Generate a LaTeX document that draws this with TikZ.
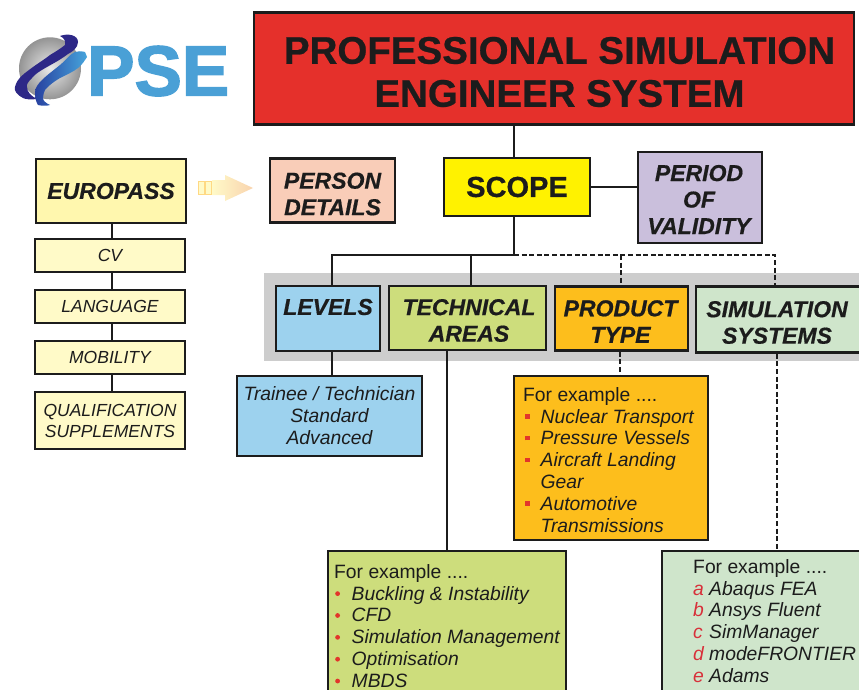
\documentclass[tikz,border=0pt]{standalone}
\usepackage{fontspec}
\setmainfont[BoldFeatures={FakeBold=0.6},BoldItalicFeatures={FakeBold=0.6}]{Liberation Sans}
\newfontfamily\psefont[UprightFont=* Bold,UprightFeatures={FakeBold=2}]{Liberation Sans}
\newcommand{\fs}[2]{\fontsize{#1}{#2}\selectfont}
\newcommand{\rb}{\makebox[17.5pt][l]{\hspace*{2pt}\textcolor{bulred}{\raisebox{4.5pt}{\rule{4.5pt}{4.5pt}}}}}
\newcommand{\cb}{\makebox[17.5pt][l]{\hspace*{1pt}\textcolor{bulred}{\raisebox{4pt}{\tikz\fill (0,0) circle (2.4pt);}}}}
\newcommand{\lt}[1]{\makebox[16pt][l]{\textcolor{letred}{#1}}}
\definecolor{bulred}{HTML}{E2352B}
\definecolor{letred}{HTML}{D8303A}
\definecolor{ink}{HTML}{1C1C1C}
\definecolor{cred}{HTML}{E5302B}
\definecolor{cyel}{HTML}{FFF200}
\definecolor{clil}{HTML}{CABFDC}
\definecolor{cpink}{HTML}{F9CDB8}
\definecolor{cpale}{HTML}{FFF7AE}
\definecolor{cpaler}{HTML}{FFFAC8}
\definecolor{cblue}{HTML}{9DD2EE}
\definecolor{cgreen}{HTML}{CDDD7C}
\definecolor{corange}{HTML}{FDBE1C}
\definecolor{cmint}{HTML}{CFE5CB}
\definecolor{cband}{HTML}{CDCDCD}
\definecolor{cpse}{HTML}{4AA0D6}
\definecolor{cpeach}{HTML}{F9D3AE}
\tikzset{
  boxn/.style={draw=ink,line width=2.6pt,inner sep=0pt,align=center,text=ink},
  head/.style={boxn,font=\bfseries\itshape\fs{23}{26.5}},
  lab/.style={inner sep=0pt,align=center,text=ink,font=\bfseries\itshape\fs{23}{26.5}},
  small/.style={boxn,fill=cpaler,font=\itshape\fs{17.5}{21}},
  conn/.style={draw=ink,line width=2.4pt},
  dconn/.style={draw=ink,line width=2.5pt,dash pattern=on 5pt off 2.6pt},
  list/.style={inner sep=0pt,anchor=north west,align=left,text=ink,font=\fs{19.3}{21.85}},
}
\begin{document}
\begin{tikzpicture}[x=1pt,y=-1pt]
\useasboundingbox (0,0) rectangle (859,690);
\clip (0,0) rectangle (859,690);
% logo
\shade[inner color=black!8,outer color=black!42] (50,68.3) circle (31);
\path[fill={rgb,255:red,45;green,40;blue,135}] (60,36) .. controls (68,33) and (78,35) .. (78,42)
  .. controls (78,48) and (72,52) .. (68,54) .. controls (60,60) and (54,63) .. (47,67)
  .. controls (40,71) and (35,74) .. (32,78) .. controls (28,82) and (26,85) .. (27,87)
  .. controls (27,92) and (31,96) .. (37,99) .. controls (30,100) and (25,99) .. (23,98)
  .. controls (17,95) and (14,91) .. (15,87) .. controls (17,78) and (25,73) .. (33,67)
  .. controls (40,62) and (45,59) .. (50,55) .. controls (55,52) and (60,49) .. (65,45)
  .. controls (66,41) and (64,38) .. (60,36) -- cycle;
\shade[left color={rgb,255:red,40;green,65;blue,160},right color={rgb,255:red,70;green,165;blue,220}]
  (85,52) .. controls (81,51) and (78,51) .. (75,52) .. controls (70,54) and (66,60) .. (60,65)
  .. controls (54,70) and (47,75) .. (42,80) .. controls (38,84) and (35,88) .. (35,92)
  .. controls (35,98) and (36,102) .. (38,105) .. controls (42,106) and (47,106) .. (50,105)
  .. controls (46,103) and (43,101) .. (43,98) .. controls (43,95) and (44,92) .. (45,90)
  .. controls (49,85) and (55,81) .. (60,78) .. controls (66,75) and (73,72) .. (78,68)
  .. controls (82,65) and (85,60) .. (87,57) -- cycle;
\node[inner sep=0pt,anchor=base west,text=cpse,font=\psefont\fs{71}{71}] (pse) at (87,95.5) {PSE};
% grey band
\node[fill=cband,inner sep=0pt,minimum width=595pt,minimum height=88pt] (band) at (561.5,317) {};
% arrow
\shade[left color=cpaler,right color=cpeach] (212,180) -- (225,180) -- (225,175) -- (253,188) -- (225,201) -- (225,195) -- (212,195) -- cycle;
\draw[cpale!75!orange,line width=.5pt,fill=cpaler] (198,181) rectangle (204,194) (205,181) rectangle (211,194);
% boxes
\node[boxn,fill=cred,minimum width=600pt,minimum height=112pt,
  label={[lab,font=\bfseries\fs{38.5}{43},xshift=5.5pt,yshift=-3.5pt]center:{PROFESSIONAL SIMULATION\\ENGINEER SYSTEM}}] (title) at (554,68.5) {};
\node[boxn,fill=cyel,font=\bfseries\fs{29}{32},minimum width=146pt,minimum height=58pt] (scope) at (517,187) {SCOPE};
\node[boxn,fill=clil,minimum width=124pt,minimum height=91pt,
  label={[lab,yshift=-2pt,xshift=-1pt]center:{PERIOD\\OF\\VALIDITY}}] (period) at (700,197.5) {};
\node[boxn,fill=cpink,minimum width=125pt,minimum height=64pt,
  label={[lab,yshift=-3.5pt]center:{PERSON\\DETAILS}}] (person) at (332.5,190.5) {};
\node[head,fill=cpale,minimum width=150pt,minimum height=64pt] (europass) at (111,191) {EUROPASS};
\node[small,minimum width=150pt,minimum height=33pt] (cv) at (110,255.5) {CV};
\node[small,minimum width=150pt,minimum height=33pt] (language) at (110,306.5) {LANGUAGE};
\node[small,minimum width=150pt,minimum height=33pt] (mobility) at (110,357.5) {MOBILITY};
\node[small,minimum width=150pt,minimum height=57pt] (qual) at (110,420.5) {QUALIFICATION\\SUPPLEMENTS};
\node[boxn,fill=cblue,minimum width=104pt,minimum height=65pt,
  label={[lab,yshift=11.5pt]center:{LEVELS}}] (levels) at (328,318.5) {};
\node[boxn,fill=cgreen,minimum width=157pt,minimum height=64pt,
  label={[lab,yshift=-2.5pt,xshift=1.5pt]center:{TECHNICAL\\AREAS}}] (tech) at (467.5,318) {};
\node[boxn,fill=corange,minimum width=133pt,minimum height=64pt,
  label={[lab,yshift=-3pt,xshift=-1pt]center:{PRODUCT\\TYPE}}] (prod) at (621.5,318.5) {};
\node[boxn,fill=cmint,minimum width=170pt,minimum height=66pt,
  label={[lab,yshift=-3pt,xshift=-4pt]center:{SIMULATION\\SYSTEMS}}] (sim) at (781,319.5) {};
\node[boxn,fill=cblue,font=\itshape\fs{19.3}{22},minimum width=185pt,minimum height=80pt] (lev) at (329.5,416) {Trainee / Technician\\Standard\\Advanced};
\node[boxn,fill=corange,minimum width=194pt,minimum height=164pt] (prodb) at (611,458) {};
\node[boxn,fill=cgreen,minimum width=238pt,minimum height=170pt] (techb) at (447,636) {};
\node[boxn,fill=cmint,minimum width=220pt,minimum height=170pt] (simb) at (772,636) {};
\node[list] (prodt) at (523,387) {For example ....\\
\rb\textit{Nuclear Transport}\\
\rb\textit{Pressure Vessels}\\
\rb\textit{Aircraft Landing}\\
\hspace*{17.5pt}\textit{Gear}\\
\rb\textit{Automotive}\\
\hspace*{17.5pt}\textit{Transmissions}};
\node[list] (techt) at (334,564) {For example ....\\
\cb\textit{Buckling \& Instability}\\
\cb\textit{CFD}\\
\cb\textit{Simulation Management}\\
\cb\textit{Optimisation}\\
\cb\textit{MBDS}};
\node[list] (simt) at (693,559) {For example ....\\
\lt{\textit{a}}\textit{Abaqus FEA}\\
\lt{\textit{b}}\textit{Ansys Fluent}\\
\lt{\textit{c}}\textit{SimManager}\\
\lt{\textit{d}}\textit{modeFRONTIER}\\
\lt{\textit{e}}\textit{Adams}};
% connector junctions
\coordinate (trunk) at (514,255);
\coordinate (busl) at (332,255);
\coordinate (bust) at (471,255);
\coordinate (busp) at (621,255);
\coordinate (buss) at (775,255);
\coordinate (euro) at (112,0);
\coordinate (tdrop) at (447,0);
\coordinate (pdrop) at (620,0);
\coordinate (sdrop) at (777,0);
% connectors
\draw[conn] (title.south -| trunk) -- (scope.north -| trunk);
\draw[conn] (scope.south -| trunk) -- (trunk);
\draw[conn] (scope.east |- period.west) ++(0,-10.5) coordinate (pv) -- (period.west |- pv);
\draw[conn] (bust) -- (tech.north -| bust);
\draw[conn,line join=miter] (trunk) -- (busl) -- (levels.north -| busl);
\draw[dconn] (trunk) -- (buss) -- (sim.north -| buss);
\draw[dconn] (busp) -- (prod.north -| busp);
\draw[conn] (levels.south -| busl) -- (lev.north -| busl);
\draw[conn] (tech.south -| tdrop) -- (techb.north -| tdrop);
\draw[dconn] (prod.south -| pdrop) -- (prodb.north -| pdrop);
\draw[dconn] (sim.south -| sdrop) -- (simb.north -| sdrop);
\draw[conn] (europass.south -| euro) -- (cv.north -| euro);
\draw[conn] (cv.south -| euro) -- (language.north -| euro);
\draw[conn] (language.south -| euro) -- (mobility.north -| euro);
\draw[conn] (mobility.south -| euro) -- (qual.north -| euro);
\end{tikzpicture}
\end{document}
